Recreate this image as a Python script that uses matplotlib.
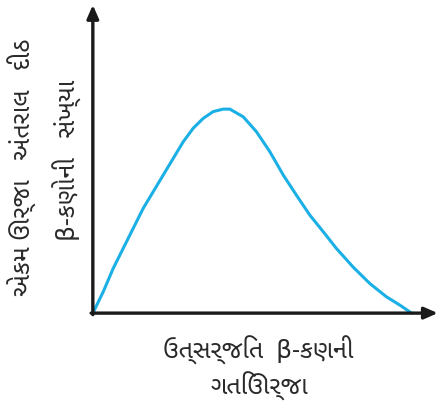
import matplotlib
matplotlib.use("Agg")
import matplotlib.pyplot as plt

# --- Data (arbitrary units) ---
energy = [0.0, 0.30, 0.59, 0.88, 1.17, 1.46, 1.75, 2.04, 2.33, 2.62, 2.91,
          3.20, 3.49, 3.78, 3.97, 4.36, 4.74, 5.13, 5.52, 5.90, 6.29, 6.68,
          7.06, 7.54, 8.03, 8.51, 8.90, 9.24]
count = [0.0, 0.69, 1.45, 2.10, 2.75, 3.40, 3.94, 4.48, 5.02, 5.56, 6.00,
         6.32, 6.54, 6.62, 6.62, 6.37, 5.89, 5.24, 4.48, 3.83, 3.18, 2.64,
         2.10, 1.50, 0.96, 0.53, 0.26, 0.0]

ylabel_lines = ["એકમ ઊર્જા   અંતરાલ   દીઠ", "β-કણોની   સંખ્યા"]
xlabel_lines = ["ઉત્સર્જિત  β-કણની", "ગતિઊર્જા"]

plt.rcParams['font.family'] = ['Noto Sans Gujarati', 'Noto Sans Gujarati UI', 'DejaVu Sans']

fig = plt.figure(figsize=(4.40, 4.12), dpi=100)
ax = fig.add_axes([0.211, 0.240, 0.784, 0.748])
ax.set_xlim(0, 10)
ax.set_ylim(0, 10)
for s in ax.spines.values():
    s.set_visible(False)
ax.set_xticks([])
ax.set_yticks([])

# axes with arrow heads
arrow = dict(arrowstyle="-|>,head_length=0.8,head_width=0.35", color="#1a1a1a",
             lw=2.4, shrinkA=0, shrinkB=0)
ax.annotate("", xy=(0, 10), xytext=(0, -0.05), arrowprops=arrow, annotation_clip=False)
ax.annotate("", xy=(10, 0), xytext=(-0.05, 0), arrowprops=arrow, annotation_clip=False)

ax.plot(energy, count, color="#1ab0e6", lw=2.2, solid_capstyle="round", clip_on=False)

txt = dict(ha="center", va="center", fontsize=18, color="#2a2a2a")
fig.text(22 / 440, 1 - 167 / 412, ylabel_lines[0], rotation=90, **txt)
fig.text(67 / 440, 1 - 160 / 412, ylabel_lines[1], rotation=90, **txt)
fig.text(258 / 440, 1 - 350 / 412, xlabel_lines[0], **txt)
fig.text(260 / 440, 1 - 386 / 412, xlabel_lines[1], **txt)

fig.savefig("out.png", dpi=100)
